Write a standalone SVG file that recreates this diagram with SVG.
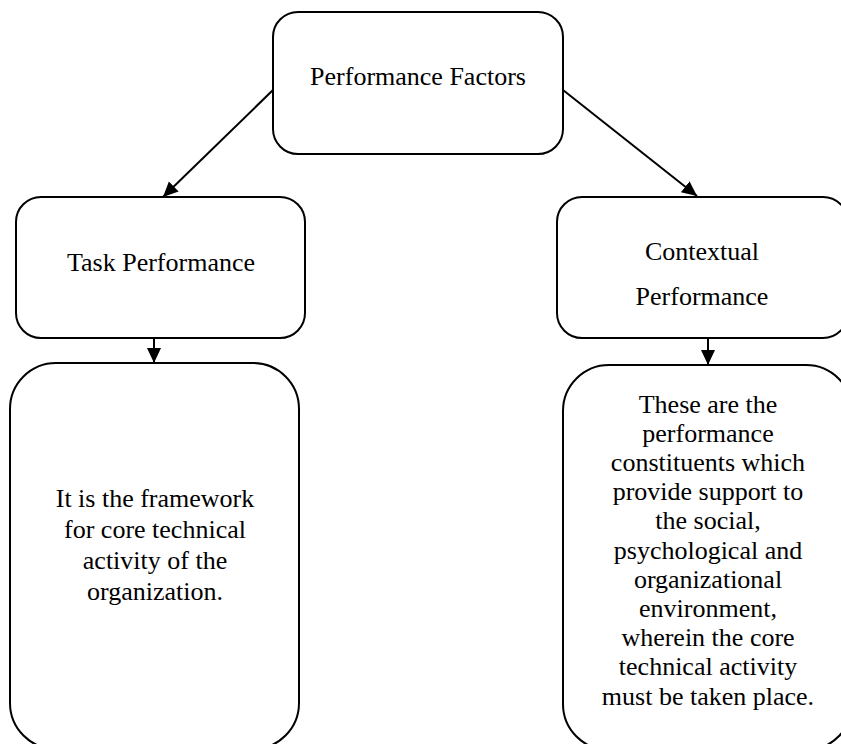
<svg xmlns="http://www.w3.org/2000/svg" width="841" height="744" viewBox="0 0 841 744">
<style>
.box{fill:#fff;stroke:#000;stroke-width:2}
.t{font-family:"Liberation Serif","Times New Roman",serif;font-size:26px;fill:#000;text-anchor:middle}
.c{stroke:#000;stroke-width:2;fill:none}
</style>
<defs>
<marker id="ah" markerUnits="userSpaceOnUse" markerWidth="16" markerHeight="16" refX="15" refY="7" orient="auto">
<path d="M0,0 L15,7 L0,14 z" fill="#000"/>
</marker>
</defs>
<rect width="841" height="744" fill="#fff"/>
<g id="connectors">
<line class="c" x1="273" y1="90" x2="163" y2="197" marker-end="url(#ah)"/>
<line class="c" x1="563" y1="90" x2="697" y2="196" marker-end="url(#ah)"/>
<line class="c" x1="154" y1="338" x2="154" y2="363" marker-end="url(#ah)"/>
<line class="c" x1="708" y1="338" x2="708" y2="365" marker-end="url(#ah)"/>
</g>
<g id="node-performance-factors">
<rect class="box" x="273" y="12" width="290" height="142" rx="25" ry="25"/>
<text class="t" x="418" y="85">Performance Factors</text>
</g>
<g id="node-task-performance">
<rect class="box" x="16" y="197" width="289" height="141" rx="25" ry="25"/>
<text class="t" x="161" y="271">Task Performance</text>
</g>
<g id="node-contextual-performance">
<rect class="box" x="557" y="197" width="291" height="141" rx="25" ry="25"/>
<text class="t" x="702" y="260">Contextual</text>
<text class="t" x="702" y="305">Performance</text>
</g>
<g id="node-task-desc">
<rect class="box" x="10" y="363" width="289" height="386" rx="46" ry="46"/>
<text class="t" x="155" y="507">It is the framework</text>
<text class="t" x="155" y="538">for core technical</text>
<text class="t" x="155" y="569">activity of the</text>
<text class="t" x="155" y="600">organization.</text>
</g>
<g id="node-contextual-desc">
<rect class="box" x="563" y="365" width="289" height="385" rx="46" ry="46"/>
<text class="t" x="708" y="413">These are the</text>
<text class="t" x="708" y="442">performance</text>
<text class="t" x="708" y="471">constituents which</text>
<text class="t" x="708" y="500">provide support to</text>
<text class="t" x="708" y="529">the social,</text>
<text class="t" x="708" y="559">psychological and</text>
<text class="t" x="708" y="588">organizational</text>
<text class="t" x="708" y="617">environment,</text>
<text class="t" x="708" y="646">wherein the core</text>
<text class="t" x="708" y="675">technical activity</text>
<text class="t" x="708" y="705">must be taken place.</text>
</g>
</svg>
